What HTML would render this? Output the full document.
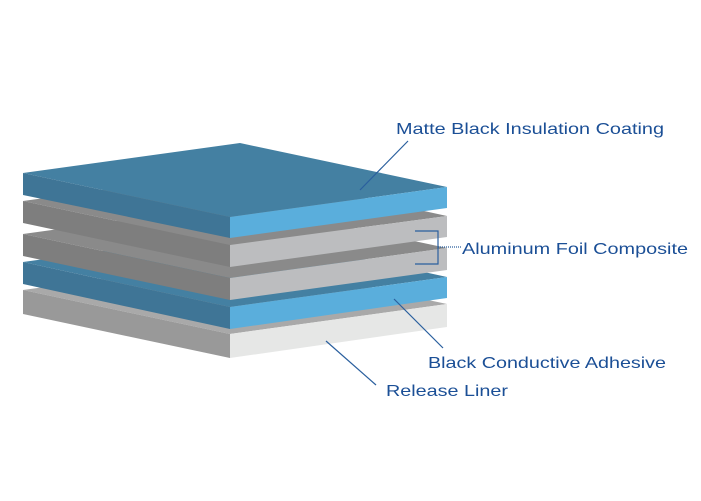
<!DOCTYPE html>
<html><head><style>html,body{margin:0;padding:0;background:#fff}svg{display:block}</style></head>
<body>
<svg width="701" height="501" viewBox="0 0 701 501" xmlns="http://www.w3.org/2000/svg">
<g>
<!-- layer 5 release liner y0=290 -->
<polygon points="23,290 240,260 447,304 230,334" fill="#a9a9a9"/>
<polygon points="23,290 230,334 230,358 23,314" fill="#999999"/>
<polygon points="230,334 447,304 447,327 230,358" fill="#e6e7e6"/>
<!-- layer 4 blue y0=262 -->
<polygon points="23,262 240,232 447,277 230,307" fill="#4480a2"/>
<polygon points="23,262 230,307 230,329 23,284" fill="#3f7596"/>
<polygon points="230,307 447,277 447,298 230,329" fill="#5aaedc"/>
<!-- layer 3 gray y0=234 -->
<polygon points="23,234 240,204 447,248 230,278" fill="#8a8a8a"/>
<polygon points="23,234 230,278 230,300 23,256" fill="#7e7e7e"/>
<polygon points="230,278 447,248 447,270 230,300" fill="#bcbdbf"/>
<!-- layer 2 gray y0=201 -->
<polygon points="23,201 240,171 447,216 230,245" fill="#8a8a8a"/>
<polygon points="23,201 230,245 230,267 23,223" fill="#7e7e7e"/>
<polygon points="230,245 447,216 447,237 230,267" fill="#bcbdbf"/>
<!-- layer 1 top blue y0=173 -->
<polygon points="23,173 240,143 447,187 230,217" fill="#4480a2"/>
<polygon points="23,173 230,217 230,238 23,195" fill="#3f7596"/>
<polygon points="230,217 447,187 447,208 230,238" fill="#5aaedc"/>
</g>
<g stroke="#2a5f9e" stroke-width="1.2" fill="none">
<line x1="408" y1="141" x2="360" y2="190"/>
<polyline points="415,231 438,231 438,264 415,264"/>
<line x1="438" y1="247" x2="462" y2="247" stroke-dasharray="1,1"/>
<line x1="443" y1="348" x2="394" y2="299"/>
<line x1="376" y1="385" x2="326" y2="341"/>
</g>
<g font-family="Liberation Sans, sans-serif" font-size="16" fill="#1b4f96">
<text x="396" y="134" textLength="268" lengthAdjust="spacingAndGlyphs">Matte Black Insulation Coating</text>
<text x="462" y="254" textLength="226" lengthAdjust="spacingAndGlyphs">Aluminum Foil Composite</text>
<text x="428" y="368" textLength="238" lengthAdjust="spacingAndGlyphs">Black Conductive Adhesive</text>
<text x="386" y="396" textLength="122" lengthAdjust="spacingAndGlyphs">Release Liner</text>
</g>
</svg>
</body></html>
